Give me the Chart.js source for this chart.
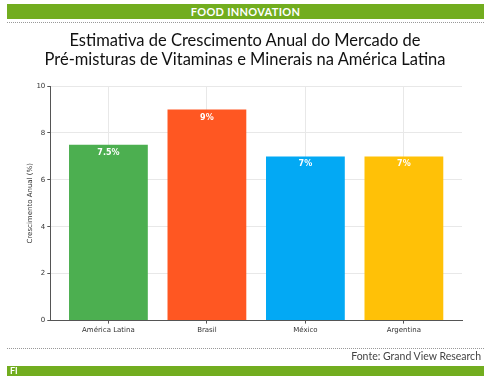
<!DOCTYPE html>
<html>
<head>
<meta charset="utf-8">
<script src="https://cdn.jsdelivr.net/npm/chart.js@4"></script>
<style>
  body { margin: 0; width: 490px; height: 380px; background: #fff; position: relative; overflow: hidden; font-family: Lato, sans-serif; }
  #chart { position: absolute; left: 0; top: 0; }
  .bar { position: absolute; left: 7px; width: 477px; background: #72ad1f; color: #fff; }
  #top { top: 4px; height: 15px; line-height: 15px; text-align: center; font-size: 11px; font-weight: bold; letter-spacing: 0.3px; }
  #bottom { top: 366px; height: 10px; line-height: 10px; font-size: 9px; font-weight: bold; padding-left: 3px; box-sizing: border-box; }
  .dots { position: absolute; left: 7px; width: 477px; border-top: 1px dotted #999; }
  #title { position: absolute; top: 31px; left: 0; width: 490px; text-align: center; font-size: 16.5px; line-height: 19px; color: #111; }
  #source { position: absolute; top: 350px; right: 9px; font-size: 10.5px; color: #444; }
</style>
</head>
<body>
<canvas id="chart" width="490" height="380"></canvas>
<div class="bar" id="top">FOOD INNOVATION</div>
<div class="dots" style="top:22px"></div>
<div id="title">Estimativa de Crescimento Anual do Mercado de<br>Pré-misturas de Vitaminas e Minerais na América Latina</div>
<div class="dots" style="top:348px"></div>
<div id="source">Fonte: Grand View Research</div>
<div class="bar" id="bottom">FI</div>
<script>
// data
const countries = ['América Latina', 'Brasil', 'México', 'Argentina']
const growth = [7.5, 9, 7, 7]
const valueLabels = ['7.5%', '9%', '7%', '7%']
const barColors = ['#4caf50', '#ff5722', '#03a9f4', '#ffc107']

// writes the value inside the top of each bar
const barLabels = {
  id: 'barLabels',
  afterDatasetsDraw(chart) {
    const ctx = chart.ctx
    ctx.save()
    ctx.fillStyle = '#fff'
    ctx.font = 'bold 8px "DejaVu Sans"'
    ctx.textAlign = 'center'
    ctx.textBaseline = 'middle'
    chart.getDatasetMeta(0).data.forEach((bar, i) => {
      ctx.fillText(valueLabels[i], bar.x, bar.y + 8)
    })
    ctx.restore()
  }
}

const tickFont = { family: 'DejaVu Sans', size: 7 }

new Chart(document.getElementById('chart'), {
  type: 'bar',
  data: {
    datasets: [{
      data: growth.map((v, i) => ({ x: i, y: v })),
      backgroundColor: barColors,
      borderWidth: 0,
      barPercentage: 0.8,
      categoryPercentage: 1
    }]
  },
  options: {
    responsive: false,
    animation: false,
    layout: { padding: { left: 26, right: 28, top: 86, bottom: 44 } },
    plugins: { legend: { display: false }, tooltip: { enabled: false } },
    scales: {
      x: {
        type: 'linear',
        offset: false,
        // matplotlib-like margins around the bars
        min: -0.59,
        max: countries.length - 1 + 0.59,
        afterBuildTicks: (scale) => {
          scale.ticks = countries.map((c, i) => ({ value: i }))
        },
        grid: { offset: false, color: '#e8e8e8', tickLength: 3, tickColor: '#555' },
        border: { color: '#555', width: 1 },
        ticks: { font: tickFont, color: '#333', padding: 2, callback: (v) => countries[v] }
      },
      y: {
        min: 0,
        max: 10,
        grid: { color: '#e8e8e8', tickLength: 3, tickColor: '#555' },
        border: { color: '#555', width: 1 },
        ticks: { stepSize: 2, font: tickFont, color: '#333', padding: 2 },
        title: { display: true, text: 'Crescimento Anual (%)', font: tickFont, color: '#333', padding: 0 }
      }
    }
  },
  plugins: [barLabels]
})
</script>
</body>
</html>
